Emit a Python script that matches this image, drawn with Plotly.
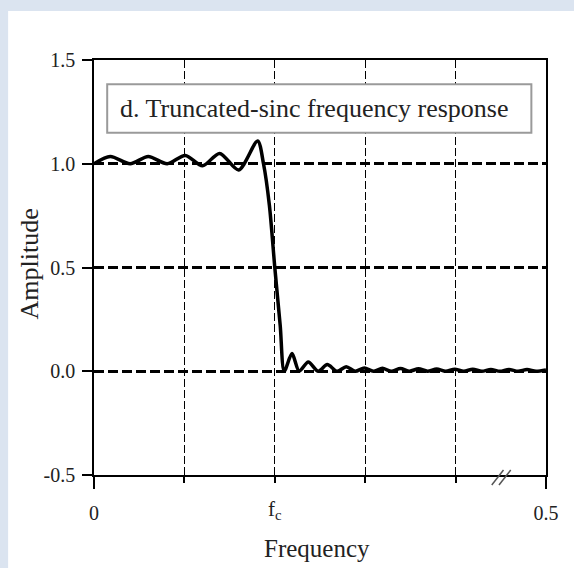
import plotly.graph_objects as go

# Frequency (fraction of sampling rate) and amplitude
freq = [0.000, 0.018, 0.040, 0.060, 0.081, 0.101, 0.120, 0.139, 0.160, 0.181,
        0.1875, 0.194, 0.200, 0.206, 0.2105, 0.219, 0.227, 0.237, 0.248, 0.258,
        0.269, 0.279, 0.289, 0.299, 0.309, 0.319, 0.329, 0.339, 0.349, 0.359,
        0.369, 0.379, 0.389, 0.399, 0.409, 0.419, 0.429, 0.439, 0.449, 0.459,
        0.469, 0.479, 0.489, 0.500]
amplitude = [1.00, 1.035, 1.00, 1.035, 1.00, 1.04, 0.99, 1.05, 0.97, 1.11,
             1.00, 0.80, 0.50, 0.22, 0.00, 0.085, 0.00, 0.045, 0.00, 0.032,
             0.00, 0.022, 0.00, 0.016, 0.00, 0.014, 0.00, 0.013, 0.00, 0.012,
             0.00, 0.011, 0.00, 0.010, 0.00, 0.010, 0.00, 0.009, 0.00, 0.009,
             0.00, 0.008, 0.00, 0.006]

x_tick_vals = [0, 0.5]
x_tick_text = ["0", "0.5"]
x_grid_vals = [0.1, 0.2, 0.3, 0.4]
fc_value = 0.2
fc_label = "f<sub>c</sub>"
y_tick_vals = [-0.5, 0.0, 0.5, 1.0, 1.5]
y_tick_text = ["-0.5", "0.0", "0.5", "1.0", "1.5"]
y_grid_vals = [0.0, 0.5, 1.0]
title_text = "d. Truncated-sinc frequency response"
x_title = "Frequency"
y_title = "Amplitude"

SERIF = "Liberation Serif, Times New Roman, serif"
TXT = "#222222"

fig = go.Figure()
fig.add_trace(go.Scatter(
    x=freq, y=amplitude, mode="lines",
    line=dict(color="black", width=3.5, shape="spline", smoothing=0.8),
    showlegend=False, hoverinfo="skip",
))

fig.update_layout(
    width=574, height=568,
    margin=dict(l=94, r=28, t=60, b=93),
    paper_bgcolor="#dbe4f0",
    plot_bgcolor="white",
    showlegend=False,
    xaxis=dict(
        range=[0, 0.5], showline=True, linecolor="black", linewidth=1.5, mirror=True,
        tickvals=x_tick_vals, ticktext=x_tick_text, ticks="outside", ticklen=12,
        tickwidth=1.5, tickcolor="black", showgrid=False, zeroline=False,
        ticklabelstandoff=7,
        tickfont=dict(family=SERIF, size=20, color=TXT),
        minor=dict(tickvals=x_grid_vals, ticks="outside", ticklen=6, tickwidth=1.5,
                   tickcolor="black", showgrid=True, gridcolor="black",
                   gridwidth=1, griddash="8px,3px"),
    ),
    yaxis=dict(
        range=[-0.5, 1.5], showline=True, linecolor="black", linewidth=1.5, mirror=True,
        tickvals=y_tick_vals, ticktext=y_tick_text, ticks="outside", ticklen=10,
        tickwidth=1.5, tickcolor="black", showgrid=False, zeroline=False,
        ticklabelstandoff=3,
        tickfont=dict(family=SERIF, size=20, color=TXT),
        minor=dict(tickvals=y_grid_vals, ticks="", showgrid=True, gridcolor="black",
                   gridwidth=3, griddash="10px,4px"),
    ),
    shapes=[
        dict(type="rect", xref="paper", yref="paper", x0=-0.19, x1=1.1, y0=-0.3, y1=1.118,
             fillcolor="white", line=dict(width=0), layer="below"),
        dict(type="rect", xref="x", yref="y", x0=0.0146, x1=0.4838, y0=1.150, y1=1.383,
             fillcolor="white", line=dict(color="#9a9a9a", width=2), layer="above"),
        dict(type="line", xref="x", yref="paper", x0=0.440, x1=0.453, y0=-0.024, y1=0.012,
             line=dict(color="#555555", width=1.5)),
        dict(type="line", xref="x", yref="paper", x0=0.448, x1=0.461, y0=-0.024, y1=0.012,
             line=dict(color="#555555", width=1.5)),
    ],
    annotations=[
        dict(text=title_text, xref="x", yref="y", x=0.026, y=1.266, xanchor="left",
             yanchor="middle", showarrow=False, font=dict(family=SERIF, size=26, color=TXT)),
        dict(text=x_title, xref="paper", yref="paper", x=0.493, y=-0.176, xanchor="center",
             yanchor="middle", showarrow=False, font=dict(family=SERIF, size=25, color=TXT)),
        dict(text=y_title, xref="paper", yref="paper", x=-0.143, y=0.508, xanchor="center",
             yanchor="middle", textangle=-90, showarrow=False,
             font=dict(family=SERIF, size=26, color=TXT)),
        dict(text=fc_label, xref="x", yref="paper", x=fc_value, y=-0.084, xanchor="center",
             yanchor="middle", showarrow=False, font=dict(family=SERIF, size=21, color=TXT)),
    ],
)

fig.write_html("out.html", config={"displayModeBar": False},
               post_script="document.body.style.margin='0px';")
